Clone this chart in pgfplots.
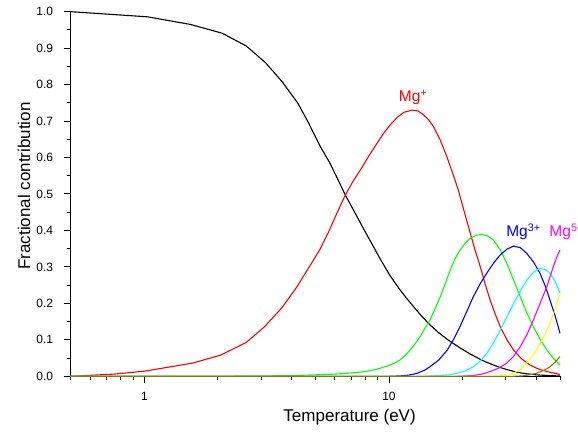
\documentclass[border=0pt]{standalone}
\usepackage{pgfplots}
\pgfplotsset{compat=1.18}
\usepackage{fontspec}
\setmainfont{Liberation Sans}

\definecolor{cGreen}{RGB}{0,255,0}
\definecolor{cCyan}{RGB}{0,255,255}
\definecolor{cMag}{RGB}{255,0,255}
\definecolor{cYel}{RGB}{255,255,0}
\definecolor{cOlive}{RGB}{128,128,0}

\begin{document}
\begin{tikzpicture}
\begin{axis}[
  scale only axis,
  width=489.3pt, height=364.6pt,
  xmode=log,
  xmin=0.5, xmax=50,
  ymin=0, ymax=1,
  axis lines=left,
  axis line style={-, line width=1pt},
  clip=false,
  tick align=outside,
  major tick length=7pt,
  minor tick length=4pt,
  tick style={black, line width=1pt},
  xtick={1,10},
  xticklabels={1,10},
  minor xtick={0.5,0.6,0.7,0.8,0.9,2,3,4,5,6,7,8,9,20,30,40,50},
  ytick={0,0.1,...,1.0},
  minor ytick={0.05,0.15,...,0.95},
  /pgf/number format/assume math mode=true,
  ticklabel style={font=\fontsize{12}{14}\selectfont},
  yticklabel style={anchor=east, inner sep=0pt, xshift=-10.4pt,
    /pgf/number format/fixed, /pgf/number format/fixed zerofill,
    /pgf/number format/precision=1},
  xticklabel style={anchor=base, inner sep=0pt, yshift=-16.7pt},
  xlabel={Temperature (eV)},
  ylabel={Fractional contribution},
  label style={font=\fontsize{17}{20}\selectfont},
  xlabel style={at={(axis description cs:0.570,0)}, anchor=base, yshift=-45.4pt},
  ylabel style={at={(axis description cs:-0.0954,0.522)}, anchor=center},
  every axis plot/.append style={line width=1.1pt, mark=none},
]
% Mg (neutral)
\addplot[black] coordinates {
 (0.5,1.0) (1.03,0.986) (1.545,0.965) (2.08,0.941) (2.61,0.906) (3.13,0.860)
 (3.66,0.808) (4.24,0.749) (4.7,0.694) (5.24,0.630) (5.7,0.588) (6.13,0.545)
 (6.63,0.497) (7.0,0.468) (7.4,0.438) (8.0,0.396) (8.65,0.355) (9.2,0.322)
 (9.7,0.296) (10.1,0.276) (10.6,0.256) (11.1,0.237) (11.8,0.214) (12.6,0.191)
 (13.6,0.165) (14.7,0.141) (16,0.119) (17.5,0.099) (19.5,0.078) (21.5,0.061)
 (24,0.044) (26.7,0.031) (28.5,0.024) (30.5,0.018) (33.4,0.011) (36.5,0.007)
 (40,0.004) (45,0.002) (50,0.001)
};
% Mg+
\addplot[red] coordinates {
 (0.5,0.0) (0.75,0.006) (1.0,0.014) (1.57,0.036) (2.05,0.058) (2.61,0.093)
 (3.10,0.136) (3.66,0.189) (4.21,0.246) (4.77,0.305) (5.24,0.350) (5.7,0.400)
 (6.15,0.450) (6.63,0.497) (7.1,0.533) (7.64,0.566) (8.25,0.603) (8.93,0.639)
 (9.5,0.666) (10.1,0.689) (10.8,0.710) (11.5,0.724) (12.4,0.730) (13.1,0.728)
 (13.8,0.718) (14.5,0.704) (15.2,0.685) (16.2,0.648) (17.2,0.604) (18.2,0.558)
 (19.2,0.511) (20.3,0.452) (21.5,0.392) (22.5,0.345) (23.6,0.301) (24.7,0.254)
 (25.9,0.209) (27.2,0.170) (28.5,0.136) (30.3,0.101) (32.3,0.072) (34.8,0.048)
 (37.7,0.031) (40.8,0.020) (44.2,0.013) (50,0.005)
};
% Mg2+
\addplot[cGreen] coordinates {
 (0.5,0) (2,0.0005) (3,0.001) (4,0.002) (5,0.004) (6,0.006) (7,0.009) (8,0.013)
 (8.6,0.017) (9.2,0.022) (10.1,0.031) (10.6,0.037) (11.1,0.045) (11.6,0.056)
 (12.2,0.072) (12.8,0.090) (13.4,0.109) (14.0,0.131) (14.7,0.154) (15.4,0.184)
 (16.2,0.218) (17.0,0.255) (17.8,0.292) (18.6,0.322) (19.5,0.346) (20.5,0.365)
 (21.5,0.379) (22.7,0.387) (24.0,0.389) (25.3,0.385) (26.7,0.374) (28.5,0.347)
 (30.3,0.310) (32.3,0.264) (34.4,0.218) (36.6,0.174) (38.9,0.136) (41.5,0.101)
 (44.2,0.072) (47,0.049) (50,0.031)
};
% Mg3+
\addplot[blue] coordinates {
 (0.5,0) (10,0) (11,0.001) (12,0.003) (13,0.008) (14,0.017) (14.7,0.026)
 (16,0.045) (17.3,0.072) (18.4,0.102) (19.5,0.136) (20.8,0.178) (22.1,0.218)
 (23.6,0.254) (25.1,0.283) (26.8,0.311) (28.5,0.333) (30.4,0.349) (32.3,0.357)
 (34.4,0.353) (36.6,0.337) (39,0.313) (41.4,0.283) (43.5,0.248) (45.5,0.209)
 (47.8,0.165) (50,0.118)
};
% Mg4+
\addplot[cCyan] coordinates {
 (0.5,0) (14,0) (16,0.002) (17.5,0.004) (18.9,0.008) (20.5,0.015) (22.1,0.026)
 (23.6,0.042) (25.1,0.063) (26.8,0.093) (28.5,0.127) (30.4,0.164) (32.3,0.200)
 (34.4,0.234) (36.6,0.264) (39,0.286) (41.4,0.296) (43.5,0.293) (45.5,0.283)
 (47.8,0.260) (50,0.228)
};
% Mg5+
\addplot[cMag] coordinates {
 (0.5,0) (19,0) (22,0.002) (24,0.006) (25.9,0.013) (28,0.022) (30.3,0.036)
 (32.3,0.055) (34.4,0.081) (36.6,0.114) (38.9,0.154) (41.5,0.201) (44.2,0.246)
 (46.9,0.300) (48.5,0.327) (50,0.346)
};
% Mg6+
\addplot[cYel] coordinates {
 (0.5,0) (25,0) (28,0.001) (30,0.003) (32.3,0.008) (34.4,0.019) (36.6,0.036)
 (39,0.060) (41.4,0.090) (43.5,0.117) (45.5,0.145) (47.8,0.185) (50,0.228)
};
% Mg7+
\addplot[cOlive] coordinates {
 (0.5,0) (32,0) (35,0.001) (37.5,0.004) (40,0.008) (42.5,0.015) (45.5,0.026)
 (47.8,0.039) (50,0.054)
};
\node[anchor=base west, inner sep=0pt, text=red, font=\fontsize{15.5}{18}\selectfont]
  at (axis cs:10.95,0.753) {Mg\textsuperscript{+}};
\node[anchor=base west, inner sep=0pt, text=blue, font=\fontsize{15.5}{18}\selectfont]
  at (axis cs:30.1,0.383) {Mg\textsuperscript{3+}};
\node[anchor=base west, inner sep=0pt, text=cMag, font=\fontsize{15.5}{18}\selectfont]
  at (axis cs:45.2,0.383) {Mg\textsuperscript{5+}};
\end{axis}
\pgfresetboundingbox
\useasboundingbox (-70.7pt,-54.7pt) rectangle (507.3pt,376.3pt);
\end{tikzpicture}
\end{document}
